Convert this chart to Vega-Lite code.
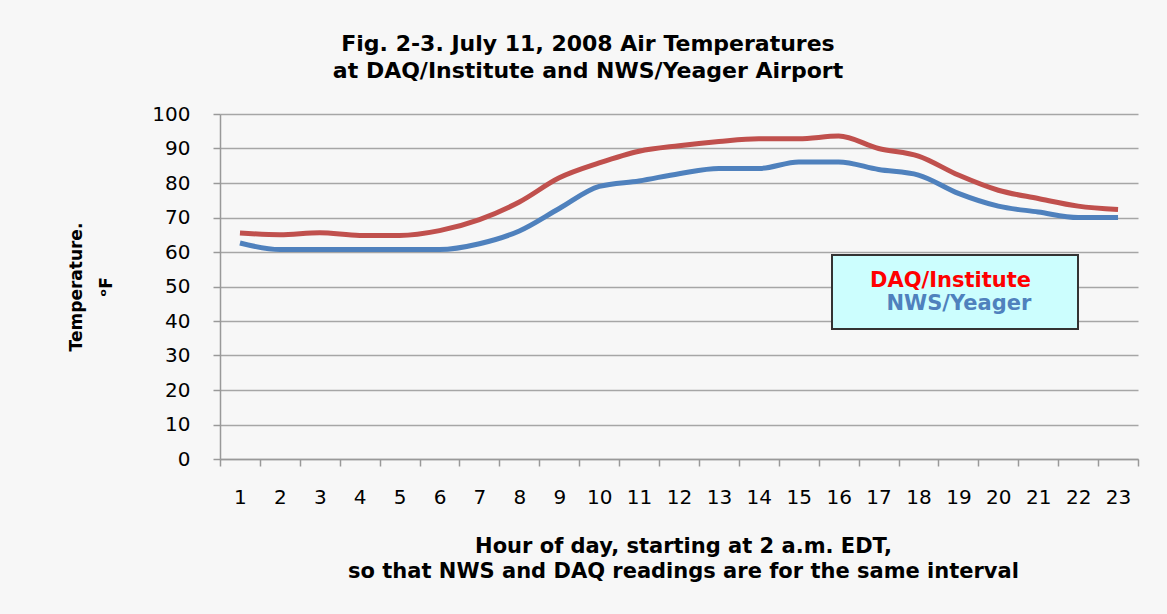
{
  "$schema": "https://vega.github.io/schema/vega-lite/v6.json",
  "width": 918,
  "height": 345,
  "autosize": "none",
  "padding": {"left": 220, "top": 114, "right": 29, "bottom": 155},
  "background": "#f7f7f7",
  "title": {
    "text": ["Fig. 2-3.  July 11, 2008 Air Temperatures", "at DAQ/Institute and NWS/Yeager Airport"],
    "anchor": "middle",
    "frame": "group",
    "dx": -91,
    "offset": 4,
    "baseline": "alphabetic",
    "font": "DejaVu Sans",
    "fontSize": 22,
    "fontWeight": "bold",
    "lineHeight": 27,
    "color": "#000000"
  },
  "config": {
    "view": {"stroke": null},
    "axis": {"domainColor": "#999999", "tickColor": "#999999", "gridColor": "#a6a6a6", "domainWidth": 1.5, "tickWidth": 1.5, "gridWidth": 1.5, "labelColor": "#000000", "titleColor": "#000000"}
  },
  "data": {
    "values": [
      {"hour": 1, "site": "DAQ/Institute", "temp": 65.5},
      {"hour": 2, "site": "DAQ/Institute", "temp": 65.0},
      {"hour": 3, "site": "DAQ/Institute", "temp": 65.6},
      {"hour": 4, "site": "DAQ/Institute", "temp": 64.8},
      {"hour": 5, "site": "DAQ/Institute", "temp": 64.8},
      {"hour": 6, "site": "DAQ/Institute", "temp": 66.2},
      {"hour": 7, "site": "DAQ/Institute", "temp": 69.4},
      {"hour": 8, "site": "DAQ/Institute", "temp": 74.5},
      {"hour": 9, "site": "DAQ/Institute", "temp": 81.5},
      {"hour": 10, "site": "DAQ/Institute", "temp": 85.8},
      {"hour": 11, "site": "DAQ/Institute", "temp": 89.2},
      {"hour": 12, "site": "DAQ/Institute", "temp": 90.8},
      {"hour": 13, "site": "DAQ/Institute", "temp": 92.0},
      {"hour": 14, "site": "DAQ/Institute", "temp": 92.8},
      {"hour": 15, "site": "DAQ/Institute", "temp": 92.8},
      {"hour": 16, "site": "DAQ/Institute", "temp": 93.6},
      {"hour": 17, "site": "DAQ/Institute", "temp": 90.0},
      {"hour": 18, "site": "DAQ/Institute", "temp": 87.8},
      {"hour": 19, "site": "DAQ/Institute", "temp": 82.3},
      {"hour": 20, "site": "DAQ/Institute", "temp": 77.9},
      {"hour": 21, "site": "DAQ/Institute", "temp": 75.5},
      {"hour": 22, "site": "DAQ/Institute", "temp": 73.3},
      {"hour": 23, "site": "DAQ/Institute", "temp": 72.3},
      {"hour": 1, "site": "NWS/Yeager", "temp": 62.6},
      {"hour": 2, "site": "NWS/Yeager", "temp": 60.7},
      {"hour": 3, "site": "NWS/Yeager", "temp": 60.7},
      {"hour": 4, "site": "NWS/Yeager", "temp": 60.7},
      {"hour": 5, "site": "NWS/Yeager", "temp": 60.7},
      {"hour": 6, "site": "NWS/Yeager", "temp": 60.7},
      {"hour": 7, "site": "NWS/Yeager", "temp": 62.4},
      {"hour": 8, "site": "NWS/Yeager", "temp": 66.1},
      {"hour": 9, "site": "NWS/Yeager", "temp": 72.6},
      {"hour": 10, "site": "NWS/Yeager", "temp": 79.0},
      {"hour": 11, "site": "NWS/Yeager", "temp": 80.6},
      {"hour": 12, "site": "NWS/Yeager", "temp": 82.7},
      {"hour": 13, "site": "NWS/Yeager", "temp": 84.2},
      {"hour": 14, "site": "NWS/Yeager", "temp": 84.2},
      {"hour": 15, "site": "NWS/Yeager", "temp": 86.1},
      {"hour": 16, "site": "NWS/Yeager", "temp": 86.1},
      {"hour": 17, "site": "NWS/Yeager", "temp": 83.9},
      {"hour": 18, "site": "NWS/Yeager", "temp": 82.3},
      {"hour": 19, "site": "NWS/Yeager", "temp": 77.0},
      {"hour": 20, "site": "NWS/Yeager", "temp": 73.3},
      {"hour": 21, "site": "NWS/Yeager", "temp": 71.6},
      {"hour": 22, "site": "NWS/Yeager", "temp": 70.0},
      {"hour": 23, "site": "NWS/Yeager", "temp": 70.0}
    ]
  },
  "mark": {"type": "line", "strokeWidth": 5, "interpolate": "monotone"},
  "encoding": {
    "x": {
      "field": "hour",
      "type": "ordinal",
      "scale": {"type": "band", "paddingInner": 0, "paddingOuter": 0},
      "axis": {
        "title": ["Hour of day, starting at 2 a.m. EDT,", "so that NWS and DAQ readings are for the same interval"],
        "titleFont": "DejaVu Sans",
        "titleFontSize": 21,
        "titleFontWeight": "bold",
        "titleLineHeight": 25,
        "titlePadding": 28,
        "titleX": 463,
        "labelAngle": 0,
        "labelFont": "DejaVu Sans",
        "labelFontSize": 20,
        "labelBaseline": "middle",
        "labelPadding": 31,
        "tickSize": 7,
        "tickBand": "extent",
        "grid": false
      }
    },
    "y": {
      "field": "temp",
      "type": "quantitative",
      "scale": {"domain": [0, 100]},
      "axis": {
        "values": [0, 10, 20, 30, 40, 50, 60, 70, 80, 90, 100],
        "title": ["Temperature.", "ᵒF"],
        "titleFont": "DejaVu Sans",
        "titleFontSize": 17,
        "titleFontWeight": "bold",
        "titleLineHeight": 30,
        "titlePadding": 36,
        "labelFont": "DejaVu Sans",
        "labelFontSize": 20,
        "labelPadding": 23,
        "tickSize": 7,
        "grid": true
      }
    },
    "color": {
      "field": "site",
      "type": "nominal",
      "scale": {"domain": ["DAQ/Institute", "NWS/Yeager"], "range": ["#c0504d", "#4f81bd"]},
      "legend": {
        "orient": "none",
        "legendX": 612,
        "legendY": 141,
        "title": null,
        "fillColor": "#ccfefe",
        "strokeColor": "#333333",
        "padding": 14,
        "symbolSize": 0,
        "symbolOpacity": 0,
        "symbolStrokeWidth": 0,
        "labelOffset": 3,
        "labelFont": "DejaVu Sans",
        "labelFontSize": 21,
        "labelFontWeight": "bold",
        "labelLimit": 400,
        "clipHeight": 23,
        "rowPadding": 0,
        "labelExpr": "datum.label == 'DAQ/Institute' ? datum.label + '\u2800\u2800' : '\u2800' + datum.label",
        "encode": {
          "labels": {"update": {"fill": {"signal": "datum.value == 'DAQ/Institute' ? '#ff0000' : '#4f81bd'"}}},
          "legend": {"update": {"strokeWidth": {"value": 2}}}
        }
      }
    }
  }
}
